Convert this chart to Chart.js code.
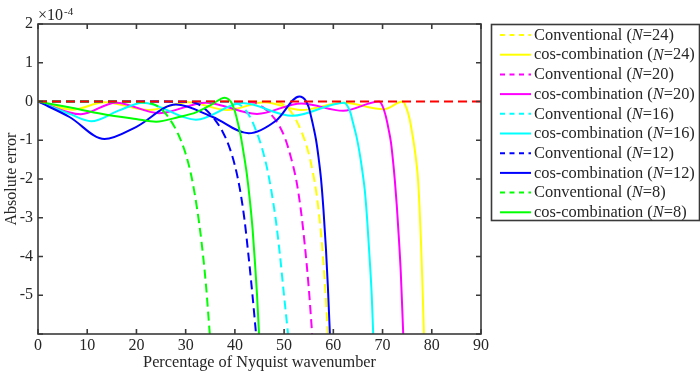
<!DOCTYPE html>
<html><head><meta charset="utf-8">
<script src="https://cdn.jsdelivr.net/npm/chart.js@4/dist/chart.umd.min.js"></script>
<style>html,body{margin:0;padding:0;background:#fff}</style>
</head><body>
<canvas id="c" width="700" height="374"></canvas>
<script>
// Axis ticks
const xTicks = [0, 10, 20, 30, 40, 50, 60, 70, 80, 90];
const yTickLabels = [-5, -4, -3, -2, -1, 0, 1, 2];

// Series (x: % of Nyquist wavenumber, y: absolute error in units of 1e-4)
const refX = [0, 90];
const refY = [0, 0];

const conv24X = [0, 47, 49, 50.8, 52.3, 53.6, 54.8, 55.8, 56.6, 57.3, 57.9, 58.4, 58.9];
const conv24Y = [0, -0.005, -0.03, -0.17, -0.45, -0.8, -1.25, -1.8, -2.4, -3.15, -4.0, -4.9, -6.0];
const cos24X = [0, 7, 13.5, 22.5, 30.5, 38.5, 46, 53.5, 62, 70.3, 74.1, 74.8, 75.5, 76.0, 76.5, 76.9, 77.2, 77.5, 77.8, 78.1, 78.4];
const cos24Y = [0, -0.21, -0.02, -0.22, -0.02, -0.22, -0.02, -0.22, -0.03, -0.2, 0, -0.15, -0.45, -0.8, -1.2, -1.6, -2.0, -2.7, -3.6, -4.7, -6.0];

const conv20X = [0, 42, 44, 45.6, 47.3, 48.8, 50.2, 51.4, 52.5, 53.4, 54.2, 55.0, 55.7];
const conv20Y = [0, -0.005, -0.03, -0.14, -0.33, -0.58, -0.95, -1.45, -2.05, -2.8, -3.7, -4.8, -6.0];
const cos20X = [0, 8.7, 15.8, 24.6, 34.1, 44.5, 53.5, 62, 69.3, 70.0, 70.7, 71.2, 71.7, 72.1, 72.5, 72.9, 73.3, 73.7, 74.2];
const cos20Y = [0, -0.33, -0.03, -0.3, -0.03, -0.32, -0.05, -0.24, 0, -0.12, -0.4, -0.7, -1.05, -1.5, -2.04, -2.7, -3.5, -4.4, -6.0];

const conv16X = [0, 38, 40, 41.5, 43, 44.3, 45.5, 46.5, 47.4, 48.3, 49.1, 49.9, 50.8];
const conv16Y = [0, -0.005, -0.03, -0.13, -0.38, -0.75, -1.2, -1.7, -2.3, -3.05, -3.9, -4.9, -6.0];
const cos16X = [0, 6.4, 10.8, 16.5, 21.3, 32.1, 41.5, 51.7, 62.2, 62.9, 63.5, 64.0, 64.7, 65.3, 65.9, 66.4, 66.9, 67.4, 67.8, 68.1];
const cos16Y = [0, -0.32, -0.51, -0.23, -0.03, -0.47, -0.04, -0.37, -0.03, -0.12, -0.3, -0.55, -0.9, -1.3, -1.8, -2.3, -3.1, -4.1, -5.0, -6.0];

const conv12X = [0, 30, 32, 34, 36, 37.5, 38.8, 40, 41, 41.9, 42.7, 43.5, 44.3];
const conv12Y = [0, -0.005, -0.04, -0.2, -0.48, -0.78, -1.15, -1.65, -2.25, -3.0, -3.9, -4.9, -6.0];
const cos12X = [0, 6.4, 13.5, 19.9, 28.0, 35.5, 42.8, 48.4, 53.1, 53.8, 54.4, 55.0, 55.5, 56.0, 56.5, 57.0, 57.5, 58.0, 58.5, 58.9, 59.3];
const cos12Y = [0, -0.4, -0.97, -0.66, -0.08, -0.4, -0.82, -0.49, 0.13, 0.1, 0.02, -0.15, -0.4, -0.68, -1.0, -1.45, -2.0, -2.8, -3.8, -4.8, -6.0];

const conv8X = [0, 20, 22, 24, 25.5, 27, 28.5, 30, 31.2, 32.3, 33.2, 34.1, 34.9];
const conv8Y = [0, -0.005, -0.03, -0.1, -0.25, -0.5, -0.85, -1.35, -1.95, -2.75, -3.6, -4.7, -6.0];
const cos8X = [0, 6.3, 13.1, 19.9, 24.0, 28.6, 32.1, 35.5, 37.9, 38.7, 39.4, 40.0, 40.6, 41.2, 41.8, 42.4, 43.0, 43.6, 44.1, 44.5, 44.9];
const cos8Y = [0, -0.15, -0.32, -0.45, -0.52, -0.4, -0.28, -0.06, 0.1, 0.06, -0.05, -0.25, -0.55, -0.9, -1.35, -1.85, -2.5, -3.3, -4.2, -5.0, -6.0];

const seriesLabels = [
  ['Conventional (', 'N', '=24)'], ['cos-combination (', 'N', '=24)'],
  ['Conventional (', 'N', '=20)'], ['cos-combination (', 'N', '=20)'],
  ['Conventional (', 'N', '=16)'], ['cos-combination (', 'N', '=16)'],
  ['Conventional (', 'N', '=12)'], ['cos-combination (', 'N', '=12)'],
  ['Conventional (', 'N', '=8)'],  ['cos-combination (', 'N', '=8)']
];
const seriesX = [conv24X, cos24X, conv20X, cos20X, conv16X, cos16X, conv12X, cos12X, conv8X, cos8X];
const seriesY = [conv24Y, cos24Y, conv20Y, cos20Y, conv16Y, cos16Y, conv12Y, cos12Y, conv8Y, cos8Y];
const seriesColors = ['#ffff00', '#ffff00', '#ff00ff', '#ff00ff', '#00ffff', '#00ffff', '#0000ff', '#0000ff', '#00ff00', '#00ff00'];

const FONT = '"Liberation Serif", "Times New Roman", serif';
const TXT = '#262626';
const AX = '#3a3a3a';
const DASH = [9, 5];

function pts(xs, ys) { return xs.map((x, i) => ({x: x, y: ys[i]})); }

const datasets = seriesX.map((xs, i) => ({
  label: seriesLabels[i].join(''),
  legendParts: seriesLabels[i],
  data: pts(xs, seriesY[i]),
  borderColor: seriesColors[i],
  borderWidth: 2,
  borderDash: i % 2 === 0 ? DASH : [],
  pointRadius: 0,
  cubicInterpolationMode: 'monotone',
  fill: false,
  order: -i,
  clip: 0
}));
datasets.push({
  label: 'reference',
  data: pts(refX, refY),
  borderColor: '#ff0000',
  borderWidth: 2,
  borderDash: DASH,
  pointRadius: 0,
  fill: false,
  order: -100,
  clip: 0
});

const framePlugin = {
  id: 'frame',
  afterDatasetsDraw(chart) {
    const {ctx, chartArea: a, scales: {x, y}} = chart;
    ctx.save();
    ctx.strokeStyle = AX;
    ctx.lineWidth = 1.6;
    ctx.setLineDash([]);
    ctx.strokeRect(a.left, a.top, a.right - a.left, a.bottom - a.top);
    const L = 5;
    ctx.beginPath();
    xTicks.forEach(v => {
      const px = x.getPixelForValue(v);
      ctx.moveTo(px, a.bottom); ctx.lineTo(px, a.bottom - L);
      ctx.moveTo(px, a.top); ctx.lineTo(px, a.top + L);
    });
    for (let v = -6; v <= 2; v++) {
      const py = y.getPixelForValue(v);
      ctx.moveTo(a.left, py); ctx.lineTo(a.left + L, py);
      ctx.moveTo(a.right, py); ctx.lineTo(a.right - L, py);
    }
    ctx.stroke();
    // exponent label
    ctx.fillStyle = TXT;
    ctx.textBaseline = 'alphabetic';
    ctx.textAlign = 'left';
    ctx.font = '16px ' + FONT;
    ctx.fillText('\u00d710', a.left, 20);
    const w = ctx.measureText('\u00d710').width;
    ctx.font = '11px ' + FONT;
    ctx.fillText('-4', a.left + w + 1, 15);
    ctx.restore();
  },
  afterDraw(chart) {
    const {ctx} = chart;
    ctx.save();
    const bx = 491.5, by = 24.5, bw = 208, bh = 196;
    ctx.fillStyle = '#fff';
    ctx.fillRect(bx, by, bw, bh);
    ctx.strokeStyle = AX;
    ctx.lineWidth = 1.6;
    ctx.setLineDash([]);
    ctx.strokeRect(bx, by, bw, bh);
    chart.data.datasets.forEach((ds, i) => {
      if (!ds.legendParts) return;
      const yy = 35 + i * 19.7;
      ctx.strokeStyle = ds.borderColor;
      ctx.lineWidth = 2;
      ctx.setLineDash(ds.borderDash.length ? [5, 4.5] : []);
      ctx.beginPath();
      ctx.moveTo(500, yy); ctx.lineTo(531, yy);
      ctx.stroke();
      ctx.setLineDash([]);
      ctx.fillStyle = TXT;
      ctx.textBaseline = 'middle';
      ctx.textAlign = 'left';
      let tx = 534;
      const [a, n, b] = ds.legendParts;
      ctx.font = '16.4px ' + FONT;
      ctx.fillText(a, tx, yy + 0.5); tx += ctx.measureText(a).width;
      ctx.font = 'italic 16.4px ' + FONT;
      ctx.fillText(n, tx, yy + 0.5); tx += ctx.measureText(n).width;
      ctx.font = '16.4px ' + FONT;
      ctx.fillText(b, tx, yy + 0.5);
    });
    ctx.restore();
  }
};

new Chart(document.getElementById('c'), {
  type: 'line',
  data: {datasets: datasets},
  options: {
    responsive: false,
    animation: false,
    layout: {padding: {top: 24, right: 219, bottom: 0, left: 0}},
    plugins: {legend: {display: false}, tooltip: {enabled: false}},
    scales: {
      x: {
        type: 'linear', min: 0, max: 90,
        afterFit: s => { s.height = 40; },
        afterBuildTicks: s => { s.ticks = xTicks.map(v => ({value: v})); },
        grid: {display: false, drawTicks: false},
        border: {display: false},
        ticks: {padding: 2, color: TXT, font: {family: FONT, size: 16}},
        title: {display: true, text: 'Percentage of Nyquist wavenumber', color: TXT, font: {family: FONT, size: 16.3}, padding: {top: 0, bottom: 1}}
      },
      y: {
        type: 'linear', min: -6, max: 2,
        afterFit: s => { s.width = 38; },
        afterBuildTicks: s => { s.ticks = yTickLabels.map(v => ({value: v})); },
        grid: {display: false, drawTicks: false},
        border: {display: false},
        ticks: {padding: 5, color: TXT, font: {family: FONT, size: 16}},
        title: {display: true, text: 'Absolute error', color: TXT, font: {family: FONT, size: 16}, padding: {top: 2, bottom: 0}}
      }
    }
  },
  plugins: [framePlugin]
});
</script>
</body></html>
